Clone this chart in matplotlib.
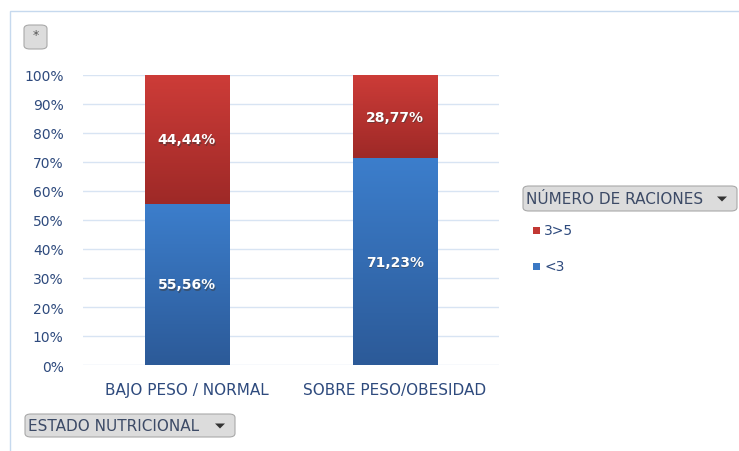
import numpy as np
import matplotlib
matplotlib.use("Agg")
import matplotlib.pyplot as plt
from matplotlib.patches import FancyBboxPatch, Rectangle, Polygon
from matplotlib.colors import LinearSegmentedColormap

# data
categories = ["BAJO PESO / NORMAL", "SOBRE PESO/OBESIDAD"]
menos_3 = [55.56, 71.23]
tres_5 = [44.44, 28.77]
series_names = ["3>5", "<3"]
yticks = list(range(0, 101, 10))

W, H = 739, 452
fig = plt.figure(figsize=(W / 100, H / 100), dpi=100)
plt.rcParams['font.family'] = ['DejaVu Sans']

def fx(px):
    return px / W

def fy(py):
    return 1 - py / H

# outer chart border
fig.patches.append(Rectangle((fx(10), fy(460)), fx(800), fy(12) - fy(460),
                             transform=fig.transFigure, fill=False,
                             edgecolor='#C6D9EE', linewidth=1.0))

ax = fig.add_axes([fx(83), fy(366), fx(499) - fx(83), fy(76) - fy(366)])
x = np.arange(len(categories))
width = 0.404

blue_cmap = LinearSegmentedColormap.from_list('b', ['#2C5A98', '#3C7ECC'])
red_cmap = LinearSegmentedColormap.from_list('r', ['#9E2927', '#CD3C38'])

bars_blue = ax.bar(x, menos_3, width, color='#3A78C4', zorder=2)
bars_red = ax.bar(x, tres_5, width, bottom=menos_3, color='#C03633', zorder=2)

# vertical gradient inside each bar segment
grad = np.linspace(0, 1, 256).reshape(-1, 1)
for bars, cmap in [(bars_blue, blue_cmap), (bars_red, red_cmap)]:
    for b in bars:
        x0, y0 = b.get_x(), b.get_y()
        im = ax.imshow(grad, cmap=cmap, aspect='auto', origin='lower',
                       extent=[x0, x0 + b.get_width(), y0, y0 + b.get_height()],
                       zorder=3)
        im.set_clip_path(b)

# data labels
for i in range(len(categories)):
    for val, bottom in [(menos_3[i], 0), (tres_5[i], menos_3[i])]:
        lbl = f"{val:.2f}%".replace('.', ',')
        ax.text(x[i] + 0.003, bottom + val / 2 - 0.4, lbl,
                ha='center', va='center', color='#3a3a3a', fontsize=10,
                fontweight='bold', zorder=4, alpha=0.5)
        ax.text(x[i], bottom + val / 2, lbl,
                ha='center', va='center', color='white', fontsize=10,
                fontweight='bold', zorder=5)

ax.set_xlim(-0.5, 1.5)
ax.set_ylim(0, 100)
ax.set_yticks(yticks)
ax.set_yticklabels([f"{t}%" for t in yticks])
ax.set_xticks(x)
ax.set_xticklabels(categories)
ax.tick_params(axis='y', length=0, labelsize=10, colors='#2E4A7D', pad=14)
ax.tick_params(axis='x', length=0, labelsize=11, colors='#2E4A7D', pad=12)
for s in ax.spines.values():
    s.set_visible(False)
ax.grid(axis='y', color='#D8E4F3', linewidth=1.0, zorder=0)
ax.set_axisbelow(True)

def button(x0, y0, x1, y1, label, arrow=True):
    p = FancyBboxPatch((fx(x0), fy(y1)), fx(x1) - fx(x0), fy(y0) - fy(y1),
                       boxstyle="round,pad=0,rounding_size=0.008",
                       transform=fig.transFigure, facecolor='#DCDCDC',
                       edgecolor='#A9A9A9', linewidth=0.8)
    fig.patches.append(p)
    cy = (y0 + y1) / 2
    fig.text(fx(x0 + 3), fy(cy), label, ha='left', va='center',
             fontsize=11, color='#3C4A66')
    if arrow:
        ax_ = x1 - 15
        fig.patches.append(Polygon([(fx(ax_ - 5), fy(cy - 2)), (fx(ax_ + 5), fy(cy - 2)),
                                    (fx(ax_), fy(cy + 3))], closed=True,
                                   transform=fig.transFigure, facecolor='#333333',
                                   edgecolor='none'))

button(24, 26, 47, 50, '', arrow=False)
fig.text(fx(35.5), fy(36), '*', ha='center', va='center', fontsize=9, color='#555555')
button(523, 187, 737, 212, 'NÚMERO DE RACIONES')
button(25, 415, 235, 438, 'ESTADO NUTRICIONAL')

# legend
for name, col, py in [(series_names[0], '#C23733', 231), (series_names[1], '#3A78C4', 267)]:
    fig.patches.append(Rectangle((fx(533), fy(py + 4)), fx(7), fy(0) - fy(7),
                                 transform=fig.transFigure, facecolor=col,
                                 edgecolor='none'))
    fig.text(fx(544), fy(py), name, ha='left', va='center', fontsize=10,
             color='#2E4A7D')

fig.savefig('out.png', dpi=100)
